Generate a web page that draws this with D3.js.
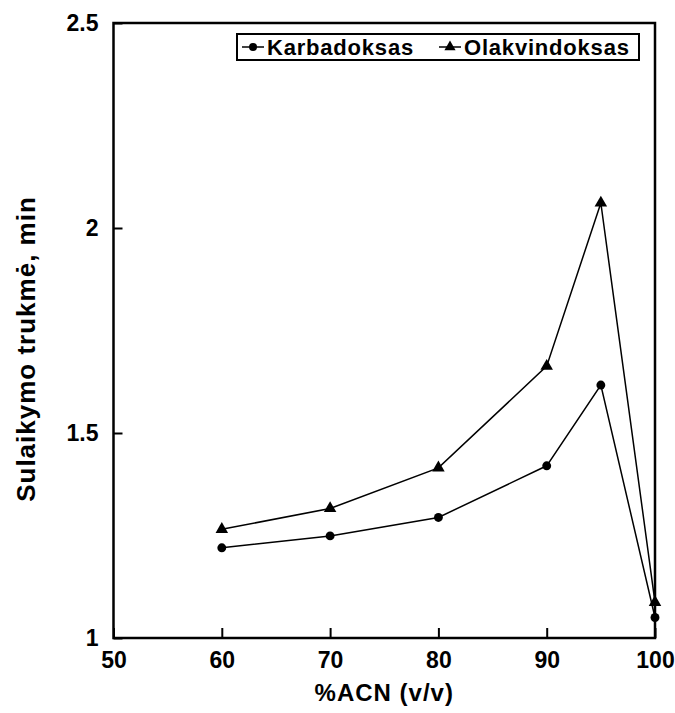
<!DOCTYPE html>
<html>
<head>
<meta charset="utf-8">
<script src="https://cdn.jsdelivr.net/npm/d3@7"></script>
<style>
  html, body { margin: 0; padding: 0; background: #fff; }
  svg { display: block; }
  svg text { font-family: "Liberation Sans", Arial, sans-serif; font-weight: bold; fill: #000; }
</style>
</head>
<body>
<svg id="chart" width="675" height="713"></svg>
<script>
const xValues = [60, 70, 80, 90, 95, 100];
const karbadoksas = [1.220, 1.249, 1.294, 1.420, 1.617, 1.050];
const olakvindoksas = [1.265, 1.316, 1.415, 1.663, 2.061, 1.087];
const seriesNames = ["Karbadoksas", "Olakvindoksas"];
const xTicks = [50, 60, 70, 80, 90, 100];
const yTicks = [1, 1.5, 2, 2.5];
const xTitle = "%ACN (v/v)";
const yTitle = "Sulaikymo trukmė, min";

(function () {
const svg = d3.select("#chart");
const pLeft = 113.5, pRight = 655, pTop = 23, pBottom = 638;

const x = d3.scaleLinear().domain([50, 100]).range([pLeft, pRight]);
const y = d3.scaleLinear().domain([1, 2.5]).range([pBottom, pTop]);

// x axis
const xAxis = svg.append("g")
  .attr("transform", `translate(0,${pBottom})`)
  .call(d3.axisBottom(x).tickValues(xTicks).tickFormat(d3.format("d"))
        .tickSizeInner(-10).tickSizeOuter(0).tickPadding(14));
xAxis.attr("font-family", null).attr("font-size", null);
xAxis.select(".domain").remove();
xAxis.selectAll(".tick line").attr("stroke", "#000").attr("stroke-width", 2);
xAxis.selectAll(".tick text").attr("fill", "#000")
  .style("font-size", "23px");

// y axis
const yAxis = svg.append("g")
  .attr("transform", `translate(${pLeft},0)`)
  .call(d3.axisLeft(y).tickValues(yTicks).tickFormat(d => String(d))
        .tickSizeInner(-9).tickSizeOuter(0).tickPadding(15));
yAxis.attr("font-family", null).attr("font-size", null);
yAxis.select(".domain").remove();
yAxis.selectAll(".tick line").attr("stroke", "#000").attr("stroke-width", 2);
yAxis.selectAll(".tick text").attr("fill", "#000")
  .style("font-size", "23px");

// frame
svg.append("rect")
  .attr("x", pLeft).attr("y", pTop)
  .attr("width", pRight - pLeft).attr("height", pBottom - pTop)
  .attr("fill", "none").attr("stroke", "#000").attr("stroke-width", 2.5);

// titles
svg.append("text")
  .attr("x", (pLeft + pRight) / 2).attr("y", 701)
  .attr("text-anchor", "middle")
  .style("font-size", "24px").style("letter-spacing", "1px")
  .text(xTitle);

svg.append("text")
  .attr("transform", `translate(35,349) rotate(-90)`)
  .attr("text-anchor", "middle")
  .style("font-size", "26px").style("letter-spacing", "1px")
  .text(yTitle);

// series
const line = d3.line().x((d, i) => x(xValues[i])).y(d => y(d));
const series = [
  { name: seriesNames[0], values: karbadoksas, symbol: d3.symbolCircle, size: 62 },
  { name: seriesNames[1], values: olakvindoksas, symbol: d3.symbolTriangle, size: 68 }
];

series.forEach(s => {
  svg.append("path").datum(s.values)
    .attr("d", line).attr("fill", "none")
    .attr("stroke", "#000").attr("stroke-width", 1.5);
  svg.append("g").selectAll("path").data(s.values).join("path")
    .attr("transform", (d, i) => `translate(${x(xValues[i])},${y(d)})`)
    .attr("d", d3.symbol().type(s.symbol).size(s.size))
    .attr("fill", "#000");
});

// legend
const lg = svg.append("g");
lg.append("rect").attr("x", 237).attr("y", 34).attr("width", 402).attr("height", 26)
  .attr("fill", "#fff").attr("stroke", "#000").attr("stroke-width", 2);
const legendItems = [
  { s: series[0], lx: 242, tx: 267 },
  { s: series[1], lx: 439, tx: 464 }
];
legendItems.forEach(it => {
  lg.append("line").attr("x1", it.lx).attr("x2", it.lx + 22)
    .attr("y1", 47).attr("y2", 47).attr("stroke", "#000").attr("stroke-width", 1.5);
  lg.append("path").attr("transform", `translate(${it.lx + 11},47)`)
    .attr("d", d3.symbol().type(it.s.symbol).size(it.s.size * 0.8)).attr("fill", "#000");
  lg.append("text").attr("x", it.tx).attr("y", 55)
    .style("font-size", "22px").style("letter-spacing", "0.8px")
    .text(it.s.name);
});
})();
</script>
</body>
</html>
